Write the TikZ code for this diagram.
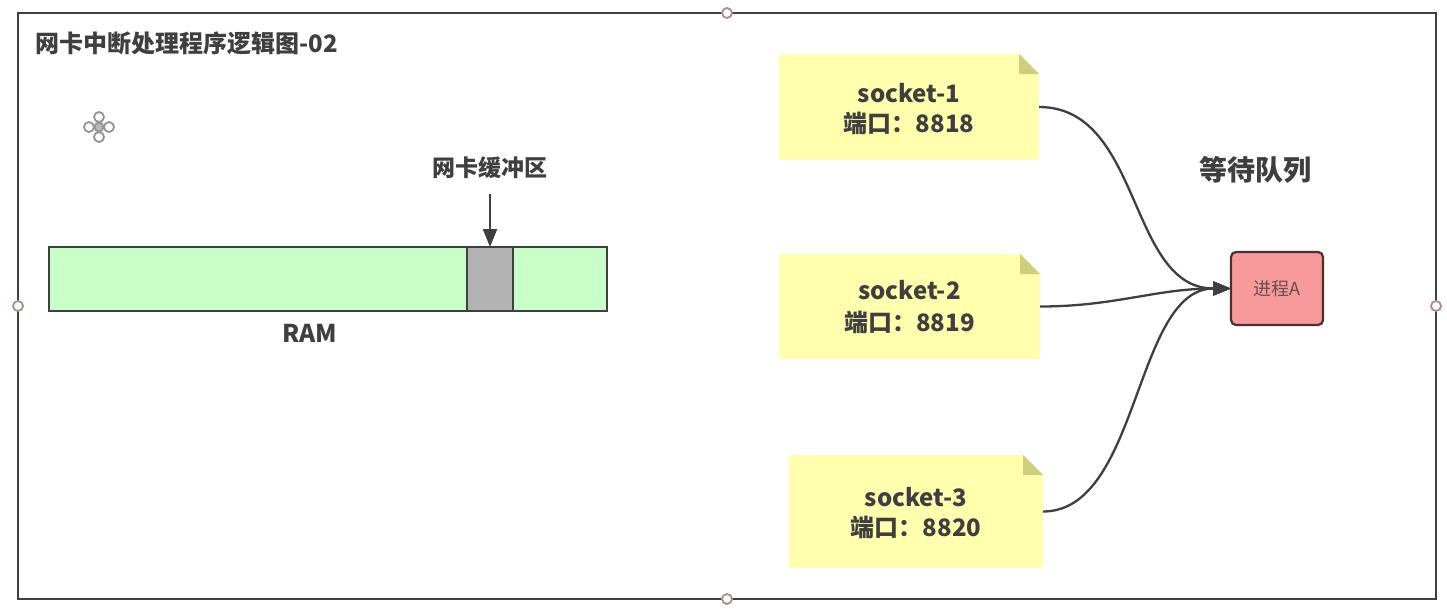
\documentclass[tikz,border=0pt]{standalone}
\usepackage{fontspec}
\usetikzlibrary{arrows.meta,calc}
\setmainfont{Noto Sans CJK SC}
\definecolor{ink}{HTML}{3F3F3F}
\definecolor{notefill}{HTML}{FFFFAE}
\definecolor{foldfill}{HTML}{CFCF80}
\definecolor{ramfill}{HTML}{C8FFC8}
\definecolor{memgray}{HTML}{B3B3B3}
\definecolor{procfill}{HTML}{F89A9C}
\definecolor{procline}{HTML}{4A3030}
\definecolor{handleline}{HTML}{B08A8A}
\tikzset{
  x=1pt,y=-1pt,
  txt/.style={font=\fontsize{#1}{#1}\selectfont\bfseries,text=ink,inner sep=0pt},
  notebox/.style={rectangle,fill=notefill,inner sep=0pt,outer sep=0pt,align=center,text=ink,
    font=\fontsize{24}{30}\selectfont\bfseries,minimum width=#1},
  handle/.style={circle,draw=handleline,fill=white,line width=1.8pt,minimum size=10pt,inner sep=0pt,outer sep=0pt},
  movedot/.style={circle,draw=black!42,fill=white,line width=1.8pt,minimum size=10pt,inner sep=0pt,outer sep=0pt},
  barbox/.style={draw=ink,line width=2.2pt,minimum height=64pt,inner sep=0pt,outer sep=0pt,anchor=north west},
  link/.style={draw=ink,line width=2.3pt,-{Triangle[length=18pt,width=14pt]}},
  curve/.style={link,out=0,in=180,looseness=#1},
}
\newcommand{\notefold}[1]{%
  \fill[white] ($(#1.north east)+(-20,-1)$) -- ($(#1.north east)+(1,-1)$) -- ($(#1.north east)+(1,21)$) -- cycle;
  \fill[foldfill] ($(#1.north east)+(-20,0)$) -- ($(#1.north east)+(0,20)$) -- ($(#1.north east)+(-20,20)$) -- cycle;
}
\begin{document}
\begin{tikzpicture}
\useasboundingbox (0,0) rectangle (1447,608);
\fill[white] (0,0) rectangle (1447,608);
\node[draw=ink,line width=2.5pt,minimum width=1418pt,minimum height=586pt,inner sep=0pt,outer sep=0pt,anchor=north west] (frame) at (18,13) {};
\foreach \a/\n in {north/hn,south/hs,west/hw,east/he}
  \node[handle] (\n) at (frame.\a) {};
\node[txt=24,anchor=west] (title) at (35,43) {网卡中断处理程序逻辑图-02};
% move cursor icon
\node[movedot] (mt) at (99,117) {};
\node[movedot] (mb) at (99,137) {};
\node[movedot] (ml) at (89,127) {};
\node[movedot] (mr) at (109,127) {};
\node[movedot,fill=black!28,minimum size=9pt] (mc) at (99,127) {};
% RAM
\node[barbox,fill=ramfill,minimum width=558pt] (ram) at (49,247) {};
\node[barbox,fill=memgray,minimum width=46pt] (buf) at (467,247) {};
\node[txt=23] (buflabel) at (490,168) {网卡缓冲区};
\coordinate (arrowstart) at ($(buf.north)+(0,-53)$);
\draw[link] (arrowstart) -- (buf.north);
\node[txt=24.5] (ramlabel) at (310,333) {RAM};
% notes
\node[notebox=260pt,minimum height=106pt,anchor=north west] (s1) at (779,54) {\strut\raisebox{-1.5pt}{socket-1}\\\raisebox{-1.5pt}{端口：8818}};
\node[notebox=261pt,minimum height=105pt,anchor=north west] (s2) at (779,254) {\strut\raisebox{1.5pt}{socket-2}\\\raisebox{1.5pt}{端口：8819}};
\node[notebox=254pt,minimum height=113pt,anchor=north west] (s3) at (789,455) {\strut\raisebox{-1pt}{socket-3}\\\raisebox{-1pt}{端口：8820}};
\notefold{s1}\notefold{s2}\notefold{s3}
\node[txt=28] (queue) at (1255,170) {等待队列};
\node[draw=procline,fill=procfill,line width=2.2pt,rounded corners=5pt,minimum width=92pt,minimum height=73pt,inner sep=0pt,outer sep=0pt,anchor=north west,text=procline!85,font=\fontsize{18}{18}\selectfont] (proc) at (1231,252) {进程A};
\draw[curve=1] (s1.east) to (proc.west);
\draw[curve=1] (s2.east) to (proc.west);
\draw[curve=0.85] (s3.east) to (proc.west);
\end{tikzpicture}
\end{document}
